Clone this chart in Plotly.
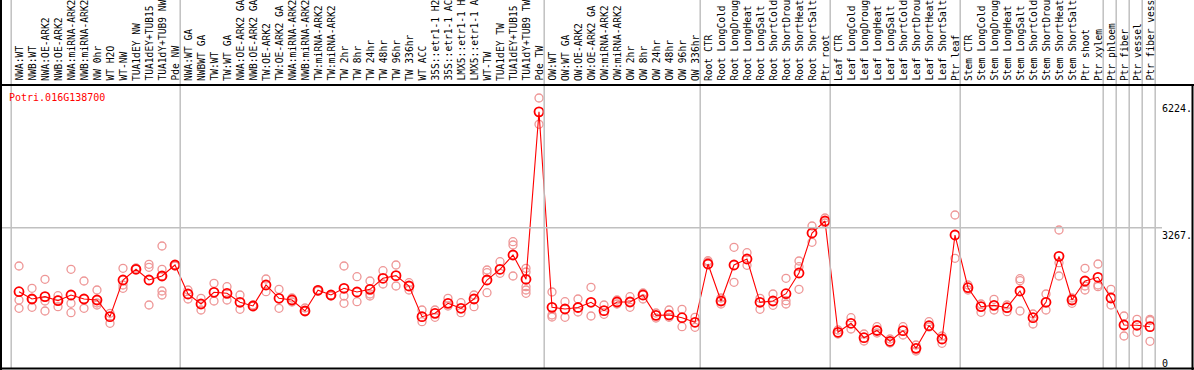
import plotly.graph_objects as go

W, H = 1194, 370

categories = [
    "NWA:WT", "NWB:WT", "NWA:OE-ARK2", "NWB:OE-ARK2", "NWA:miRNA-ARK2", "NWB:miRNA-ARK2",
    "NW 0hr", "WT H2O", "WT-NW", "TUA1dEY NW", "TUA1dEY+TUB15", "TUA1dY+TUB9 NW", "Pde NW",
    "NWA:WT GA", "NWBWT GA", "TW:WT", "TW:WT GA", "NWA:OE-ARK2 GA", "NWB:OE-ARK2 GA",
    "TW:OE-ARK2", "TW:OE-ARK2 GA", "NWA:miRNA-ARK2", "NWB:miRNA-ARK2", "TW:miRNA-ARK2",
    "TW:miRNA-ARK2", "TW 2hr", "TW 8hr", "TW 24hr", "TW 48hr", "TW 96hr", "TW 336hr",
    "WT ACC", "35S::etr1-1 H2", "35S::etr1-1 AC", "LMX5::etr1-1 H", "LMX5::etr1-1 A",
    "WT-TW", "TUA1dEY TW", "TUA1dEY+TUB15", "TUA1dY+TUB9 TW", "Pde TW",
    "OW:WT", "OW:WT GA", "OW:OE-ARK2", "OW:OE-ARK2 GA", "OW:miRNA-ARK2", "OW:miRNA-ARK2",
    "OW 2hr", "OW 8hr", "OW 24hr", "OW 48hr", "OW 96hr", "OW 336hr",
    "Root CTR", "Root LongCold", "Root LongDroug", "Root LongHeat", "Root LongSalt",
    "Root ShortCold", "Root ShortDrou", "Root ShortHeat", "Root ShortSalt", "Ptr root",
    "Leaf CTR", "Leaf LongCold", "Leaf LongDroug", "Leaf LongHeat", "Leaf LongSalt",
    "Leaf ShortCold", "Leaf ShortDrou", "Leaf ShortHeat", "Leaf ShortSalt", "Ptr leaf",
    "Stem CTR", "Stem LongCold", "Stem LongDroug", "Stem LongHeat", "Stem LongSalt",
    "Stem ShortCold", "Stem ShortDrou", "Stem ShortHeat", "Stem ShortSalt", "Ptr shoot",
    "Ptr xylem", "Ptr phloem", "Ptr fiber", "Ptr vessel", "Ptr fiber vess",
]

mean_values = [
    1639, 1453, 1512, 1410, 1555, 1453, 1427, 1002, 1937, 2210, 1937, 2039, 2320,
    1580, 1325, 1624, 1598, 1369, 1275, 1810, 1471, 1427, 1147, 1675, 1555, 1726,
    1631, 1700, 1981, 2047, 1784, 1002, 1088, 1343, 1216, 1453, 1937, 2210, 2574,
    1955, 6224,
    1241, 1198, 1236, 1369, 1155, 1376, 1376, 1555, 1037, 1045, 976, 859,
    2345, 1402, 2320, 2473, 1369, 1402, 1588, 2116, 3135, 3441,
    604, 834, 466, 650, 375, 645, 196, 772, 433, 3084,
    1741, 1257, 1292, 1231, 1657, 976, 1369, 2541, 1427, 1912, 2006,
    1478, 790, 783, 747,
]

replicate_values = [
    [2294, 1427, 1216], [1726, 1241, 1453], [1955, 1402, 1147], [1537, 1257, 1427],
    [2210, 1343, 1104], [1912, 1216], [1682, 1300, 1351], [1088, 834],
    [2235, 1810, 1726], [2210, 2243], [2337, 2261, 1300], [2804, 2210, 2039, 1657, 1555],
    [2320, 2294], [1682, 1453], [1471, 1173], [1853, 1402], [1766, 1427], [1555, 1190],
    [1275, 1300], [1963, 1639], [1700, 1216], [1478, 1376], [1224, 1147], [1682, 1657],
    [1555, 1529], [2294, 1529, 1343], [2021, 1384], [1912, 1580, 1529], [2174, 1835],
    [2320, 1784], [1868, 1682], [1173, 874], [1173, 986], [1471, 1275], [1359, 1104],
    [1555, 1257], [2192, 2123, 1614], [2404, 2108], [2913, 2829, 2039],
    [2235, 2141, 1766, 1682, 1598], [6576, 5906],
    [1631, 1045, 994], [1384, 986], [1453, 1122], [1751, 1020], [1300, 1063],
    [1427, 1325], [1512, 1241], [1606, 1453], [1096, 969], [1173, 986], [1190, 747],
    [986, 732],
    [2429, 2396], [1478, 1325], [2771, 1879], [2633, 2312], [1471, 1190], [1580, 1292],
    [1981, 1410, 1325], [2422, 2276, 1700], [3314, 2898], [3518, 3390],
    [663, 561], [976, 688], [561, 382], [747, 586], [433, 331], [747, 535], [280, 127],
    [874, 739], [510, 324], [3594, 2490],
    [1810, 1682], [1325, 1114], [1445, 1173], [1300, 1129], [1970, 1919, 1147],
    [1071, 816], [1580, 1173], [3212, 2378, 2039], [1478, 1343], [2235, 1784, 1682],
    [2345, 1810, 1766],
    [1700, 1300], [1020, 510], [935, 604], [935, 905, 375],
]

group_starts = [0, 13, 41, 53, 63, 73, 84, 85, 86, 87, 88]
tick_values = [6224, 3267, 0]
tick_labels = ["6224.", "3267.", "0"]
gene_id = "Potri.016G138700"

MONO = "DejaVu Sans Mono"
idx = list(range(len(categories)))

def px_x(p):
    return p / W

def px_y(p):
    return (H - p) / H

rep_x, rep_y = [], []
for i, reps in enumerate(replicate_values):
    for v in reps:
        rep_x.append(i)
        rep_y.append(v)

fig = go.Figure()
fig.add_trace(go.Scatter(
    x=rep_x, y=rep_y, mode="markers",
    marker=dict(symbol="circle-open", size=8, color="rgb(238,150,150)",
                line=dict(width=1.3, color="rgb(238,150,150)")),
    hoverinfo="skip", showlegend=False))
fig.add_trace(go.Scatter(
    x=idx, y=mean_values, mode="lines+markers",
    line=dict(color="red", width=1.1),
    marker=dict(symbol="circle-open", size=9, color="red",
                line=dict(width=1.8, color="red")),
    showlegend=False))

shapes = []
for s in group_starts:
    shapes.append(dict(type="line", xref="x", yref="paper", x0=s - 0.6, x1=s - 0.6,
                       y0=px_y(368), y1=1, line=dict(color="#c0c0c0", width=1.5)))
shapes.append(dict(type="line", xref="paper", yref="y", x0=px_x(1), x1=px_x(1162),
                   y0=tick_values[1], y1=tick_values[1], line=dict(color="#c0c0c0", width=1.5)))
shapes.append(dict(type="line", xref="paper", yref="paper", x0=0, x1=1,
                   y0=px_y(85), y1=px_y(85), line=dict(color="black", width=2)))
shapes.append(dict(type="line", xref="paper", yref="paper", x0=0, x1=1,
                   y0=px_y(368.5), y1=px_y(368.5), line=dict(color="black", width=2)))
shapes.append(dict(type="line", xref="paper", yref="paper", x0=px_x(1), x1=px_x(1),
                   y0=0, y1=1, line=dict(color="black", width=2)))
shapes.append(dict(type="line", xref="paper", yref="paper", x0=px_x(1192.5), x1=px_x(1192.5),
                   y0=px_y(85), y1=0, line=dict(color="black", width=2)))

annotations = []
for i, c in enumerate(categories):
    annotations.append(dict(x=i, xref="x", y=px_y(83), yref="paper", text=c,
                            textangle=-90, showarrow=False, xanchor="center",
                            yanchor="bottom", font=dict(family=MONO, size=9.6, color="black")))
annotations.append(dict(x=px_x(7), y=px_y(97), xref="paper", yref="paper", text=gene_id,
                        showarrow=False, xanchor="left", yanchor="middle",
                        font=dict(family=MONO, size=10, color="red")))
for v, t in zip(tick_values, tick_labels):
    if v == tick_values[0]:
        ya, ys = "middle", 3
    else:
        ya, ys = "top", 0
    annotations.append(dict(x=px_x(1160), xref="paper", y=v, yref="y", text=t,
                            showarrow=False, xanchor="left", yanchor=ya, yshift=ys,
                            font=dict(family=MONO, size=10, color="black")))

fig.update_layout(
    width=W, height=H,
    margin=dict(l=0, r=0, t=0, b=0, pad=0),
    paper_bgcolor="white", plot_bgcolor="white",
    xaxis=dict(domain=[px_x(1), px_x(1160)], range=[-18 / 13, (1160 - 19) / 13],
               showgrid=False, zeroline=False, showticklabels=False, ticks=""),
    yaxis=dict(domain=[px_y(368), px_y(85)], range=[-306, 6908],
               showgrid=False, zeroline=False, showticklabels=False, ticks=""),
    shapes=shapes, annotations=annotations,
)

fig.write_html("out.html", config={"displayModeBar": False},
               post_script="document.body.style.margin='0';document.body.style.overflow='hidden';")
